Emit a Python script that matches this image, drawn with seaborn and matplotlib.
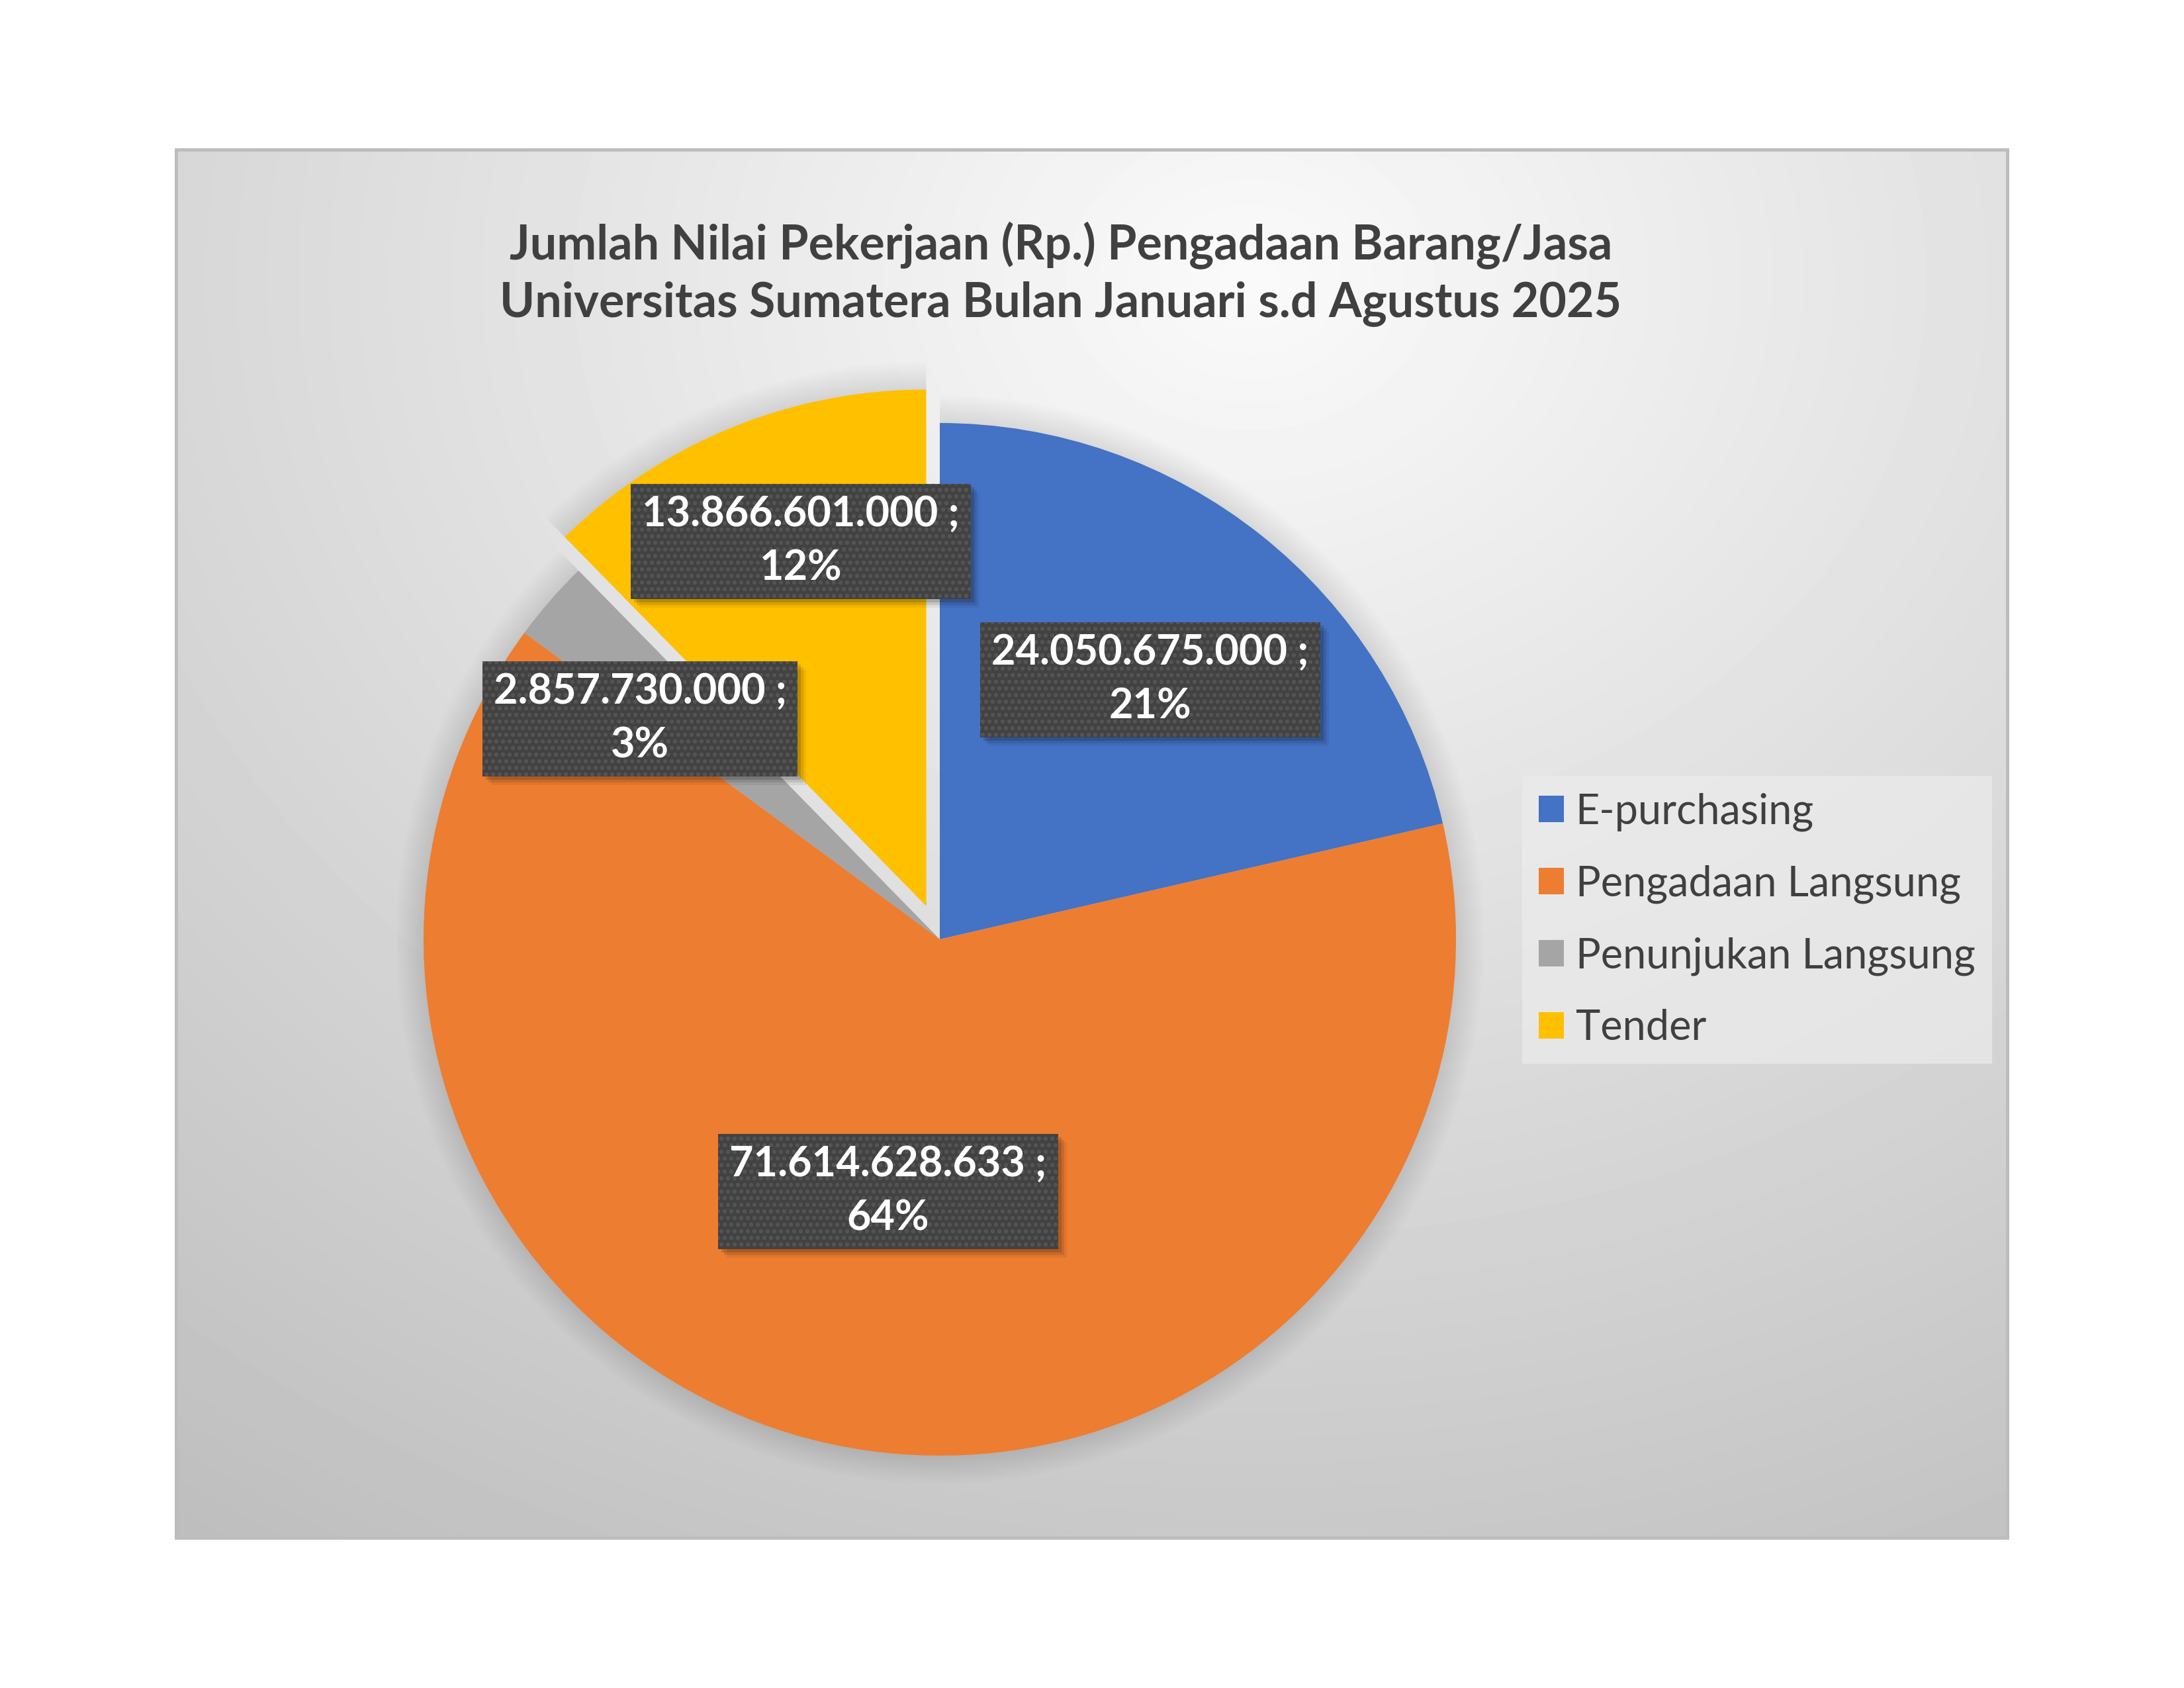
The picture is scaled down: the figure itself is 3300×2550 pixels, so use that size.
import matplotlib
matplotlib.use("Agg")
import matplotlib.pyplot as plt
from matplotlib.patches import Rectangle
import numpy as np
import seaborn as sns

categories = ["E-purchasing", "Pengadaan Langsung", "Penunjukan Langsung", "Tender"]
values = [24050675000, 71614628633, 2857730000, 13866601000]
colors = ["#4472C4", "#ED7D31", "#A5A5A5", "#FFC000"]
explode = [0, 0, 0, 0.07]
title = ("Jumlah Nilai Pekerjaan (Rp.) Pengadaan Barang/Jasa\n"
         "Universitas Sumatera Bulan Januari s.d Agustus 2025")

# canvas layout, in pixels of the 3300x2550 output
W, H = 3300, 2550
area = (266, 3033, 226, 2323)          # chart area x0, x1, y0, y1
cx, cy, R = 1420, 1419, 780            # pie centre and radius
label_pos = [(1738, 1027), (1342, 1800), (967, 1086), (1210, 818)]

sns.set_theme(style="white")
plt.rcParams["font.family"] = ["Lato", "DejaVu Sans"]

fig = plt.figure(figsize=(11, 8.5), dpi=300, facecolor="white")
renderer = fig.canvas.get_renderer()


def fit_size(text, target_px, weight="normal", base=20):
    t = fig.text(0, 0, text, fontsize=base, fontweight=weight)
    w = t.get_window_extent(renderer).width
    t.remove()
    return base * target_px / w


# background of the chart area: soft radial gradient, lightest behind the title
bg = fig.add_axes([0, 0, 1, 1])
x0, x1, y0, y1 = area
xx, yy = np.meshgrid(np.linspace(x0, x1, 500), np.linspace(y0, y1, 400))
drop = np.sqrt((0.0214 * (xx - 1890)) ** 2 + (0.0261 * (yy - 420)) ** 2)
shade = np.clip(250 - drop, 190, 255) / 255
bg.imshow(shade, cmap="gray", vmin=0, vmax=1, extent=(x0, x1, y1, y0),
          aspect="auto", interpolation="bicubic")
bg.add_patch(Rectangle((x0, y0), x1 - x0, y1 - y0, fill=False,
                       edgecolor="#bdbdbd", lw=1.2))
bg.set_xlim(0, W)
bg.set_ylim(H, 0)
bg.axis("off")

# pie
L = 1.16
half = L * R
pax = fig.add_axes([(cx - half) / W, 1 - (cy + half) / H, 2 * half / W, 2 * half / H])
pax.patch.set_alpha(0)

# soft outer shadow
for k in range(1, 13):
    pax.pie(values, colors=["black"] * 4, radius=1 + 0.0045 * k, startangle=90,
            counterclock=False, explode=explode,
            wedgeprops=dict(linewidth=0, alpha=0.009))

wedges, _ = pax.pie(values, colors=colors, startangle=90, counterclock=False,
                    explode=explode, wedgeprops=dict(linewidth=0))
pax.set_xlim(-L, L)
pax.set_ylim(-L, L)
pax.axis("off")

# title
title_fs = fit_size(title.split("\n")[0], 1667, weight="bold")
fig.text(1603 / W, 1 - 414 / H, title, ha="center", va="center", ma="center",
         fontsize=title_fs, fontweight="bold", color="#404040", linespacing=1.32)

# data labels
lab_fs = fit_size("71.614.628.633 ;", 480, weight="bold")
total = sum(values)
labels = []
for v, (px, py) in zip(values, label_pos):
    txt = f"{v:,}".replace(",", ".") + f" ;\n{v / total:.0%}"
    t = fig.text(px / W, 1 - py / H, txt, ha="center", va="center", ma="center",
                 fontsize=lab_fs, fontweight="bold", linespacing=1.5, color="white",
                 bbox=dict(boxstyle="square,pad=0.27", fc="#424242", ec="#555555",
                           lw=0, hatch="....."),
                 zorder=5)
    labels.append(t)

# blurred drop shadow behind each label box
fig.canvas.draw()
for t in labels:
    ext = t.get_bbox_patch().get_window_extent(renderer)
    for off, a in [(5, 0.14), (9, 0.10), (13, 0.06)]:
        fig.add_artist(Rectangle((ext.x0 + off, ext.y0 - off), ext.width, ext.height,
                                 transform=None, facecolor=(0, 0, 0, a), lw=0,
                                 zorder=4))

# legend
leg_fs = fit_size("Penunjukan Langsung", 604)
leg = fig.legend(wedges, categories, loc="upper left",
                 bbox_to_anchor=(2300 / W, 1 - 1172 / H), fontsize=leg_fs,
                 frameon=True, fancybox=False, handlelength=0.6, handleheight=0.6,
                 handletextpad=0.28, labelspacing=0.8, borderpad=0.4,
                 borderaxespad=0, labelcolor="#404040")
frame = leg.get_frame()
frame.set_facecolor("#ececec")
frame.set_edgecolor("none")
frame.set_alpha(0.7)

fig.savefig("out.png", dpi=300, facecolor="white")
